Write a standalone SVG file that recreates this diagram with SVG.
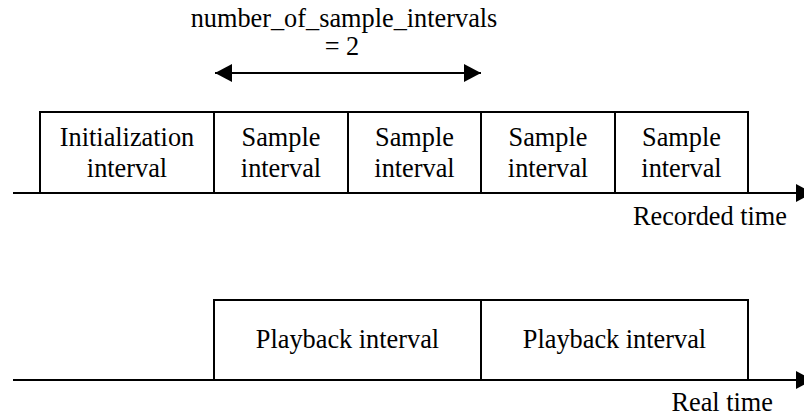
<svg xmlns="http://www.w3.org/2000/svg" width="804" height="417" viewBox="0 0 804 417">
<style>
.box{fill:#fff;stroke:#000;stroke-width:2}
.ln{fill:none;stroke:#000;stroke-width:2}
.t{font-family:"Liberation Serif","Times New Roman",serif;font-size:26.3px;fill:#000;text-anchor:middle}
.ah{fill:#000}
</style>
<defs>
<marker id="head" viewBox="0 0 17 18" refX="17" refY="9" markerWidth="17" markerHeight="18" markerUnits="userSpaceOnUse" orient="auto-start-reverse">
<path d="M0,0 L17,9 L0,18 Z" class="ah"/>
</marker>
</defs>
<g id="connectors">
<line class="ln" x1="13" y1="193" x2="813" y2="193" marker-end="url(#head)"/>
<line class="ln" x1="13" y1="380" x2="813" y2="380" marker-end="url(#head)"/>
<line class="ln" x1="215" y1="73" x2="481" y2="73" marker-start="url(#head)" marker-end="url(#head)"/>
</g>
<g id="label-count">
<text class="t" x="344" y="27">number_of_sample_intervals</text>
<text class="t" x="342" y="55">= 2</text>
</g>
<g id="init">
<rect class="box" x="40" y="112" width="174" height="81"/>
<text class="t" x="127" y="146">Initialization</text>
<text class="t" x="127" y="177">interval</text>
</g>
<g id="sample1">
<rect class="box" x="214" y="112" width="134" height="81"/>
<text class="t" x="281" y="146">Sample</text>
<text class="t" x="281" y="177">interval</text>
</g>
<g id="sample2">
<rect class="box" x="348" y="112" width="133" height="81"/>
<text class="t" x="414.5" y="146">Sample</text>
<text class="t" x="414.5" y="177">interval</text>
</g>
<g id="sample3">
<rect class="box" x="481" y="112" width="134" height="81"/>
<text class="t" x="548" y="146">Sample</text>
<text class="t" x="548" y="177">interval</text>
</g>
<g id="sample4">
<rect class="box" x="615" y="112" width="133" height="81"/>
<text class="t" x="681.5" y="146">Sample</text>
<text class="t" x="681.5" y="177">interval</text>
</g>
<g id="recorded-label">
<text class="t" x="787" y="225" style="text-anchor:end">Recorded time</text>
</g>
<g id="playback1">
<rect class="box" x="214" y="300" width="267" height="80"/>
<text class="t" x="347.5" y="348">Playback interval</text>
</g>
<g id="playback2">
<rect class="box" x="481" y="300" width="267" height="80"/>
<text class="t" x="614.5" y="348">Playback interval</text>
</g>
<g id="real-label">
<text class="t" x="773" y="411" style="text-anchor:end">Real time</text>
</g>
</svg>
